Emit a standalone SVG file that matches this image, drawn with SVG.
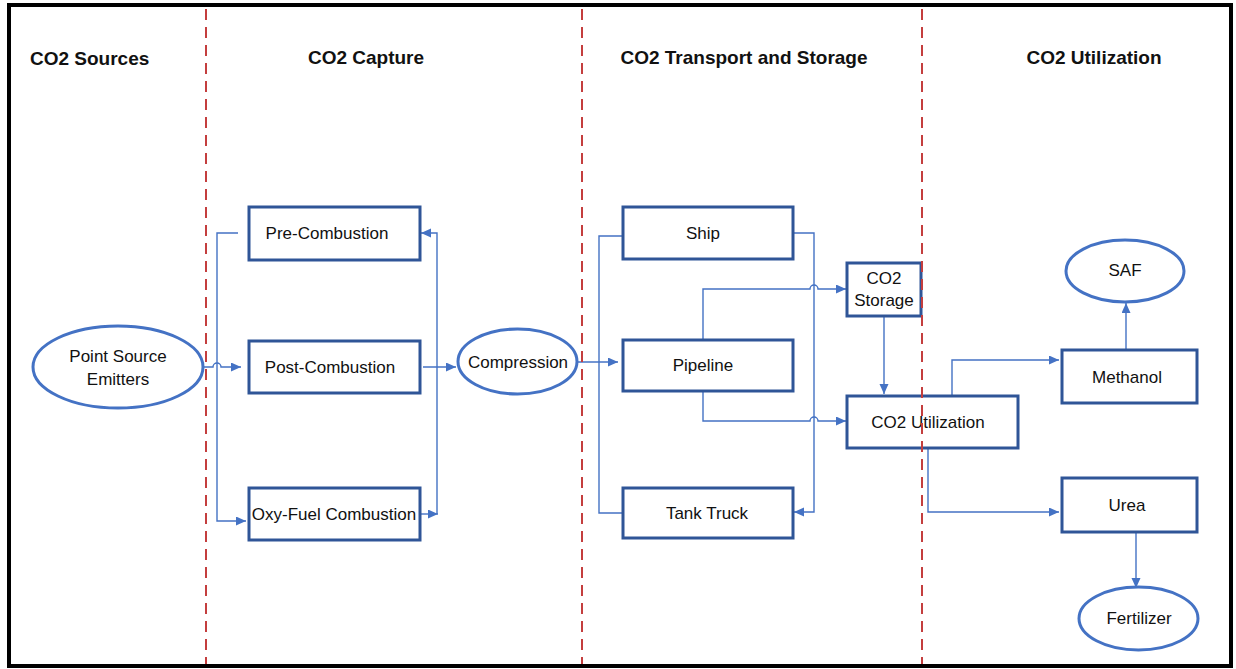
<svg xmlns="http://www.w3.org/2000/svg" width="1236" height="669" viewBox="0 0 1236 669">
<style>
.box{fill:#fff;stroke:#2F5597;stroke-width:3}
.ell{fill:#fff;stroke:#4472C4;stroke-width:3}
.lbl{font-family:"Liberation Sans",Arial,sans-serif;font-size:17px;fill:#111;text-anchor:middle}
.hdr{font-family:"Liberation Sans",Arial,sans-serif;font-size:19px;font-weight:bold;fill:#111}
.con{fill:none;stroke:#4472C4;stroke-width:1.4}
.div{stroke:#C43E3E;stroke-width:2;stroke-dasharray:11 7}
</style>
<defs>
<marker id="arr" markerUnits="userSpaceOnUse" markerWidth="11" markerHeight="10" refX="10" refY="4.5" orient="auto">
<path d="M0,0 L10,4.5 L0,9 z" fill="#4472C4"/>
</marker>
</defs>
<rect x="0" y="0" width="1236" height="669" fill="#fff"/>
<rect x="9" y="5" width="1222" height="661" fill="#fff" stroke="#000" stroke-width="4"/>

<g id="headers">
<text class="hdr" x="30" y="65">CO2 Sources</text>
<text class="hdr" x="366" y="64" text-anchor="middle">CO2 Capture</text>
<text class="hdr" x="744" y="64" text-anchor="middle">CO2 Transport and Storage</text>
<text class="hdr" x="1094" y="64" text-anchor="middle">CO2 Utilization</text>
</g>

<g id="connectors">
<path class="con" marker-end="url(#arr)" d="M203,367 H213 A4,4 0 0 1 221,367 H241"/>
<path class="con" marker-end="url(#arr)" d="M238,233 H217 V521 H246"/>
<path class="con" marker-end="url(#arr)" d="M421,514 H438"/>
<path class="con" marker-end="url(#arr)" d="M437,514 V233 H421"/>
<path class="con" marker-end="url(#arr)" d="M423,367 H456"/>
<path class="con" marker-end="url(#arr)" d="M577,362 H618"/>
<path class="con" d="M622,236 H599 V513 H622"/>
<path class="con" marker-end="url(#arr)" d="M793,233 H814 V512 H794"/>
<path class="con" marker-end="url(#arr)" d="M703,340 V289 H810 A4,4 0 0 1 818,289 H846"/>
<path class="con" marker-end="url(#arr)" d="M703,391 V421 H810 A4,4 0 0 1 818,421 H846"/>
<path class="con" marker-end="url(#arr)" d="M884,316 V394"/>
<path class="con" marker-end="url(#arr)" d="M952,396 V360 H1059"/>
<path class="con" marker-end="url(#arr)" d="M1126,350 V303"/>
<path class="con" marker-end="url(#arr)" d="M928,448 V512 H1059"/>
<path class="con" marker-end="url(#arr)" d="M1136,532 V588"/>
</g>

<g id="point-source">
<ellipse class="ell" cx="118" cy="367" rx="85" ry="41"/>
<text class="lbl" x="118" y="362">Point Source</text>
<text class="lbl" x="118" y="385">Emitters</text>
</g>
<g id="pre-combustion">
<rect class="box" x="249" y="207" width="171" height="53"/>
<text class="lbl" x="327" y="239">Pre-Combustion</text>
</g>
<g id="post-combustion">
<rect class="box" x="249" y="341" width="171" height="52"/>
<text class="lbl" x="330" y="373">Post-Combustion</text>
</g>
<g id="oxy-fuel">
<rect class="box" x="249" y="488" width="171" height="52"/>
<text class="lbl" x="334" y="520">Oxy-Fuel Combustion</text>
</g>
<g id="compression">
<ellipse class="ell" cx="517.5" cy="361.5" rx="59.5" ry="32.5"/>
<text class="lbl" x="518" y="368">Compression</text>
</g>
<g id="ship">
<rect class="box" x="623" y="207" width="170" height="52"/>
<text class="lbl" x="703" y="239">Ship</text>
</g>
<g id="pipeline">
<rect class="box" x="623" y="340" width="170" height="51"/>
<text class="lbl" x="703" y="371">Pipeline</text>
</g>
<g id="tank-truck">
<rect class="box" x="623" y="488" width="170" height="50"/>
<text class="lbl" x="707" y="519">Tank Truck</text>
</g>
<g id="co2-storage">
<rect class="box" x="847" y="263" width="74" height="53"/>
<text class="lbl" x="884" y="284">CO2</text>
<text class="lbl" x="884" y="306">Storage</text>
</g>
<g id="co2-utilization">
<rect class="box" x="847" y="396" width="171" height="52"/>
<text class="lbl" x="928" y="428">CO2 Utilization</text>
</g>
<g id="methanol">
<rect class="box" x="1062" y="350" width="135" height="53"/>
<text class="lbl" x="1127" y="383">Methanol</text>
</g>
<g id="saf">
<ellipse class="ell" cx="1125" cy="271" rx="59" ry="31"/>
<text class="lbl" x="1125" y="276">SAF</text>
</g>
<g id="urea">
<rect class="box" x="1062" y="478" width="135" height="54"/>
<text class="lbl" x="1127" y="511">Urea</text>
</g>
<g id="fertilizer">
<ellipse class="ell" cx="1138.5" cy="618.5" rx="59.5" ry="31.5"/>
<text class="lbl" x="1139" y="624">Fertilizer</text>
</g>

<g id="dividers">
<line class="div" x1="206" y1="9" x2="206" y2="664"/>
<line class="div" x1="582" y1="9" x2="582" y2="664"/>
<line class="div" x1="922" y1="9" x2="922" y2="664"/>
</g>
</svg>
